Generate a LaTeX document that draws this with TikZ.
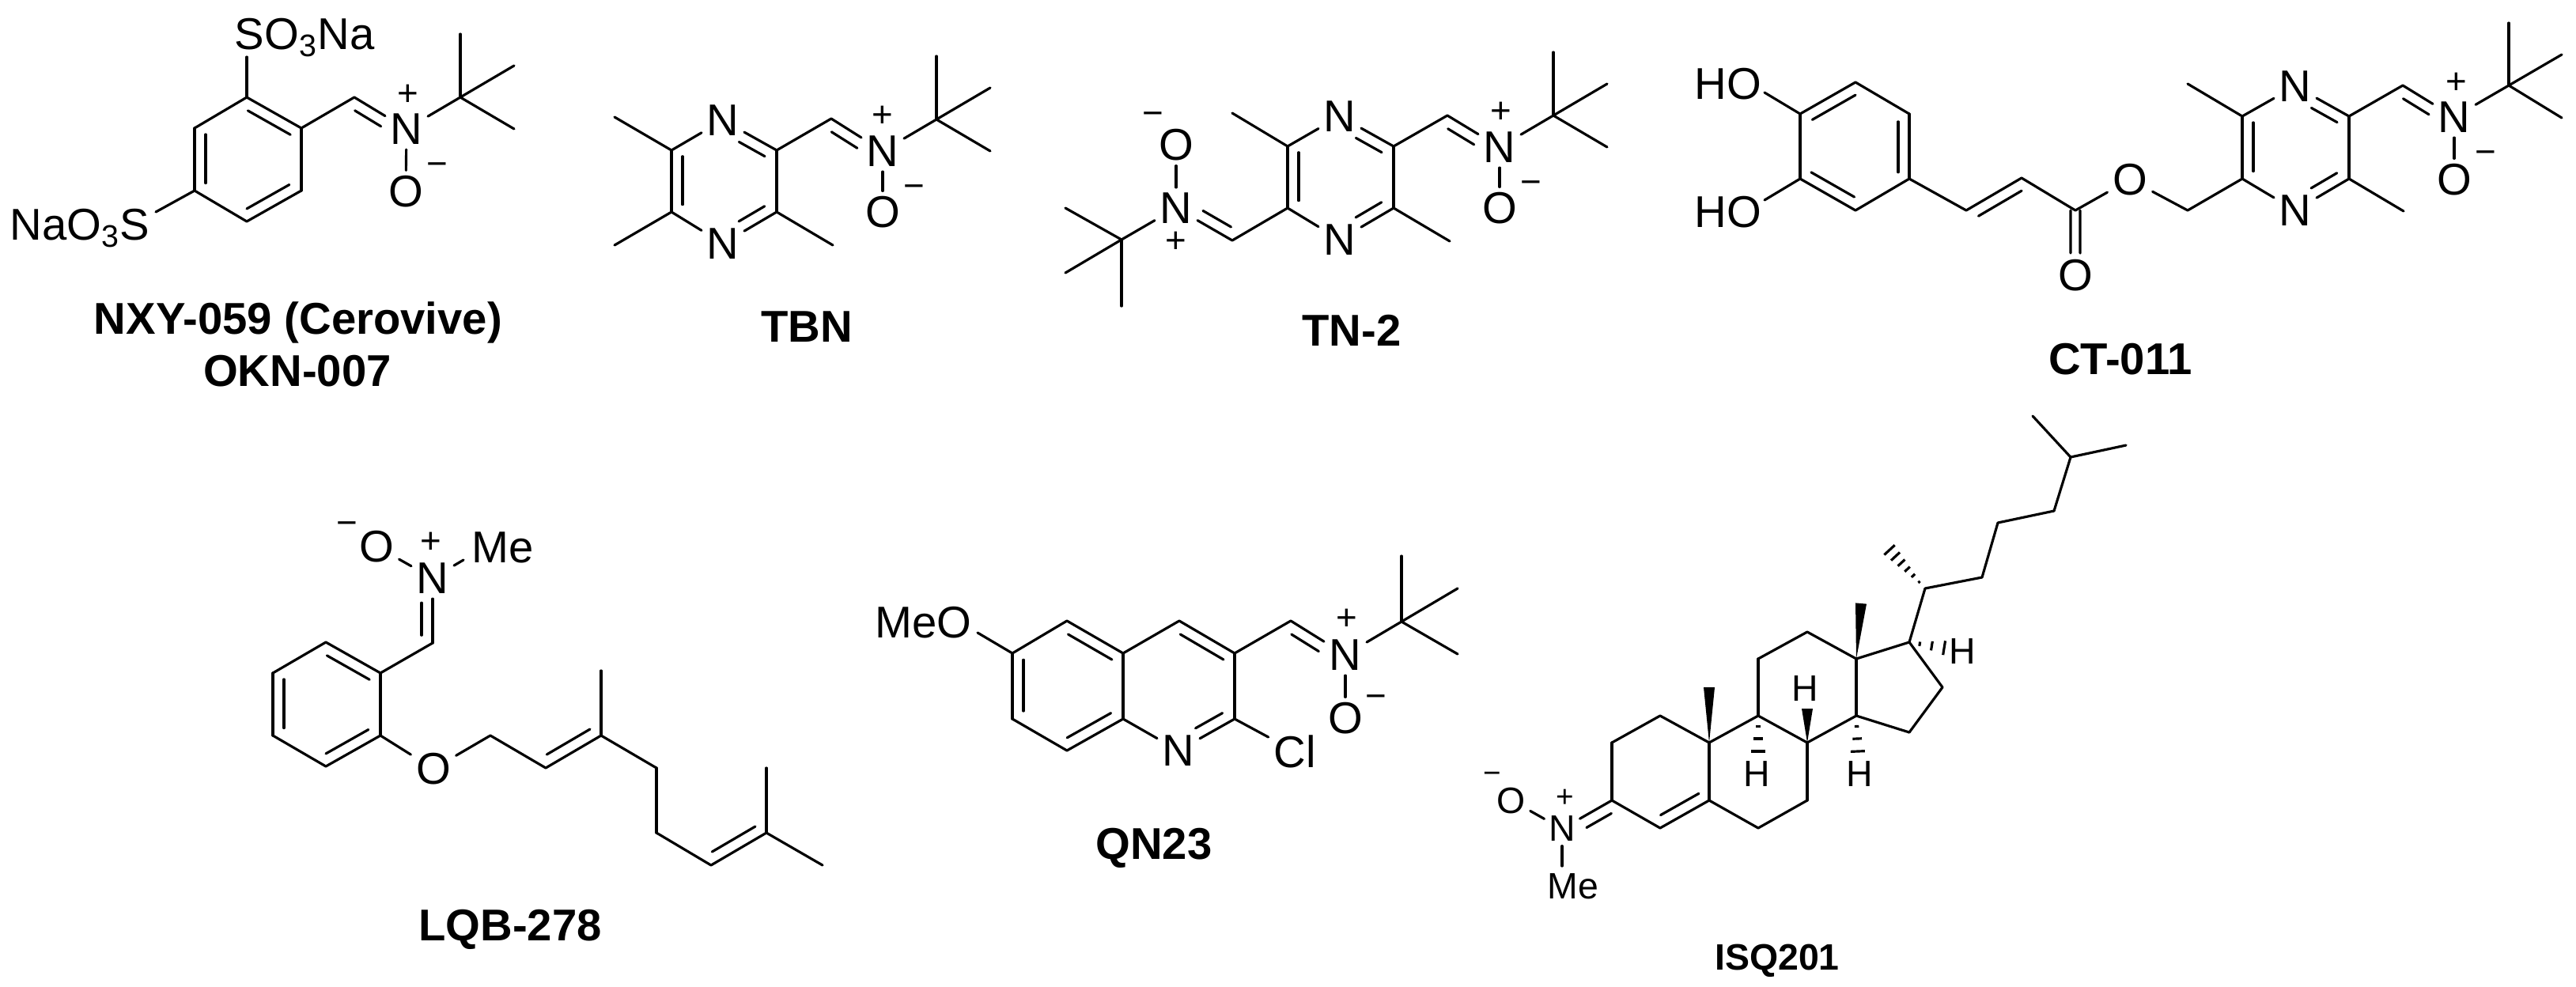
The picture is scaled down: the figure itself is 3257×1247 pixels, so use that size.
\documentclass[tikz,border=0pt]{standalone}
\usepackage{fontspec}
\setmainfont{Liberation Sans}
\usetikzlibrary{calc}

\tikzset{
  bond/.style={line width=0.9pt,line cap=round,line join=round},
  atom/.style={inner sep=0.06cm,font=\fontsize{16}{18}\selectfont},
  atomtxt/.style={inner sep=0pt,font=\fontsize{16}{18}\selectfont},
  chg/.style={inner sep=0pt,font=\fontsize{13}{14}\selectfont},
  atoms/.style={inner sep=0.05cm,font=\fontsize{13.2}{15}\selectfont},
  chgs/.style={inner sep=0pt,font=\fontsize{11}{12}\selectfont},
  lbl/.style={inner sep=0pt,anchor=base,font=\fontsize{16}{18}\selectfont\bfseries},
}
% double bond: line a--b, second line on the given side
\newcommand{\dbond}[4][.38]{%
  \draw[bond] (#2) -- (#3);
  \draw[bond] ($(#2)!.12!(#3)!#4!90:(#3)$) -- ($(#3)!#1!(#2)!#4!-90:(#2)$);}
\newcommand{\cbond}[3][.1]{\dbond[#1]{#2}{#3}{-.14cm}}
% double bond, two lines round the axis
\newcommand{\sbond}[3][.34]{%
  \draw[bond] ($(#2)!.06cm!90:(#3)$) -- ($(#3)!#1!(#2)!.06cm!-90:(#2)$);
  \draw[bond] ($(#2)!.06cm!-90:(#3)$) -- ($(#3)!#1!(#2)!.06cm!90:(#2)$);}
\newcommand{\wbond}[3]{\fill (#1) -- ($(#2)!#3!90:(#1)$) -- ($(#2)!#3!-90:(#1)$) -- cycle;}
\newcommand{\hbond}[4][.27,.58,.9]{%
  \foreach \t in {#1} \draw[bond,line cap=butt] ($(#2)!\t!(#3)!\t*#4!90:(#3)$) -- ($(#2)!\t!(#3)!\t*#4!-90:(#3)$);}

\begin{document}
\begin{tikzpicture}[x=0.01cm,y=-0.01cm]
\useasboundingbox (0,0) rectangle (3257,1247);

% NXY-059
\coordinate (nc1) at (312,123); \coordinate (nc2) at (381,162); \coordinate (nc3) at (381,241);
\coordinate (nc4) at (312,280); \coordinate (nc5) at (246,241); \coordinate (nc6) at (246,162);
\coordinate (nch) at (448,123); \coordinate (nbu) at (582,123);
\coordinate (nme1) at (582,43); \coordinate (nme2) at (650,83); \coordinate (nme3) at (650,163);
\coordinate (nsa) at (312,72); \coordinate (nsb) at (197,268);
\node[atom] (nn) at (514,163) {N}; % nitrone
\node[atom] (no) at (513,242) {O};
\node[chg] (npl) at (516,120) {+};
\node[chg] (nmi) at (553,214) {−};
\node[atomtxt,anchor=base west] (nso) at (296,62) {SO\textsubscript{3}Na};
\node[atomtxt,anchor=base east] (nsn) at (190,303) {NaO\textsubscript{3}S};
\foreach \a/\b in {nc2/nc3,nc4/nc5,nc6/nc1,nc1/nsa,nc5/nsb,nc2/nch,nn/no,nn/nbu,nbu/nme1,nbu/nme2,nbu/nme3}
  \draw[bond] (\a) -- (\b);
\cbond{nc1}{nc2} \cbond{nc3}{nc4} \cbond{nc5}{nc6}
\dbond{nch}{nn}{-.14cm}
\node[lbl] (nla) at (377,422) {NXY-059 (Cerovive)};
\node[lbl] (nlb) at (376,488) {OKN-007};

% TBN
\coordinate (tc6) at (849,190); \coordinate (tc5) at (849,268); \coordinate (tc2) at (982,190);
\coordinate (tc3) at (982,268); \coordinate (tch) at (1051,150); \coordinate (tbu) at (1184,151);
\coordinate (tm1) at (777,148); \coordinate (tm2) at (777,310); \coordinate (tm3) at (1053,310);
\coordinate (tm4) at (1184,71); \coordinate (tm5) at (1252,111); \coordinate (tm6) at (1252,191);
\node[atom] (tn1) at (914,152) {N};
\node[atom] (tn4) at (914,308) {N};
\node[atom] (tn) at (1116,191) {N};
\node[atom] (to) at (1116,268) {O};
\node[chg] (tpl) at (1116,147) {+};
\node[chg] (tmi) at (1156,242) {−};
\foreach \a/\b in {tc6/tn1,tc5/tn4,tc2/tc3,tc6/tm1,tc5/tm2,tc3/tm3,tc2/tch,tn/to,tn/tbu,tbu/tm4,tbu/tm5,tbu/tm6}
  \draw[bond] (\a) -- (\b);
\cbond{tc5}{tc6}
\dbond[.4]{tc2}{tn1}{.14cm} \dbond[.4]{tc3}{tn4}{-.14cm}
\dbond{tch}{tn}{-.14cm}
\node[lbl] (tla) at (1020,432) {TBN};

% TN-2
\coordinate (dc1) at (1628,185); \coordinate (dc2) at (1628,263); \coordinate (dc3) at (1762,185);
\coordinate (dc4) at (1762,263); \coordinate (dch) at (1830,146); \coordinate (dcl) at (1558,304);
\coordinate (dm1) at (1558,143); \coordinate (dm2) at (1833,305);
\coordinate (dbu) at (1964,146); \coordinate (dm3) at (1964,66); \coordinate (dm4) at (2032,106); \coordinate (dm5) at (2032,186);
\coordinate (dbv) at (1418,303); \coordinate (dm6) at (1347,263); \coordinate (dm7) at (1347,345); \coordinate (dm8) at (1418,387);
\node[atom] (dn1) at (1694,147) {N};
\node[atom] (dn2) at (1694,303) {N};
\node[atom] (dn) at (1896,186) {N};
\node[atom] (do) at (1896,263) {O};
\node[chg] (dpl) at (1898,142) {+};
\node[chg] (dmi) at (1936,237) {−};
\node[atom] (dnl) at (1487,263) {N};
\node[atom] (dol) at (1487,183) {O};
\node[chg] (dpm) at (1487,306) {+};
\node[chg] (dmm) at (1458,150) {−};
\foreach \a/\b in {dc1/dn1,dc2/dn2,dc3/dc4,dc1/dm1,dc4/dm2,dc3/dch,dn/do,dn/dbu,dbu/dm3,dbu/dm4,dbu/dm5,dc2/dcl,dnl/dol,dnl/dbv,dbv/dm6,dbv/dm7,dbv/dm8}
  \draw[bond] (\a) -- (\b);
\cbond{dc2}{dc1}
\dbond[.4]{dc3}{dn1}{.14cm} \dbond[.4]{dc4}{dn2}{-.14cm}
\dbond{dch}{dn}{-.14cm} \dbond{dcl}{dnl}{-.14cm}
\node[lbl] (dla) at (1709,437) {TN-2};

% CT-011
\coordinate (ca1) at (2346,104); \coordinate (ca2) at (2414,144); \coordinate (ca3) at (2414,226);
\coordinate (ca4) at (2346,266); \coordinate (ca5) at (2276,226); \coordinate (ca6) at (2276,144);
\coordinate (cha) at (2231,117); \coordinate (chb) at (2231,253);
\coordinate (cv1) at (2486,266); \coordinate (cv2) at (2556,225); \coordinate (cco) at (2624,266);
\coordinate (cch2) at (2766,266);
\coordinate (cc1) at (2835,147); \coordinate (cc2) at (2835,226); \coordinate (cc3) at (2970,147); \coordinate (cc4) at (2970,226);
\coordinate (cm1) at (2766,106); \coordinate (cm2) at (3039,267); \coordinate (cch) at (3038,108);
\coordinate (cbu) at (3172,108); \coordinate (cm3) at (3172,29); \coordinate (cm4) at (3239,69); \coordinate (cm5) at (3239,149);
\node[atomtxt,anchor=base] (chu) at (2185,125) {HO};
\node[atomtxt,anchor=base] (chl) at (2185,287) {HO};
\node[atom] (coe) at (2693,227) {O};
\node[atom] (cod) at (2624,348) {O};
\node[atom] (cn1) at (2902,109) {N};
\node[atom] (cn2) at (2902,266) {N};
\node[atom] (cn) at (3103,148) {N};
\node[atom] (co) at (3103,227) {O};
\node[chg] (cpl) at (3106,105) {+};
\node[chg] (cmi) at (3143,199) {−};
\foreach \a/\b in {ca1/ca2,ca3/ca4,ca5/ca6,ca6/cha,ca5/chb,ca3/cv1,cv2/cco,cco/coe,coe/cch2,cch2/cc2,cc1/cn1,cc2/cn2,cc3/cc4,cc1/cm1,cc4/cm2,cc3/cch,cn/co,cn/cbu,cbu/cm3,cbu/cm4,cbu/cm5}
  \draw[bond] (\a) -- (\b);
\cbond{ca6}{ca1} \cbond{ca2}{ca3} \cbond{ca4}{ca5}
\dbond[.1]{cv1}{cv2}{-.14cm}
\sbond{cco}{cod}
\cbond{cc2}{cc1}
\dbond[.4]{cc3}{cn1}{.14cm} \dbond[.4]{cc4}{cn2}{-.14cm}
\dbond{cch}{cn}{-.14cm}
\node[lbl] (cla) at (2681,473) {CT-011};

% LQB-278
\coordinate (la1) at (412,812); \coordinate (la2) at (481,851); \coordinate (la3) at (481,930);
\coordinate (la4) at (412,969); \coordinate (la5) at (345,930); \coordinate (la6) at (345,851);
\coordinate (lch) at (547,813); \coordinate (lmb) at (586,708);
\coordinate (lp1) at (620,930); \coordinate (lp2) at (690,971); \coordinate (lp3) at (760,930);
\coordinate (lp4) at (760,848); \coordinate (lp5) at (830,971); \coordinate (lp6) at (830,1053);
\coordinate (lp7) at (899,1094); \coordinate (lp8) at (969,1053); \coordinate (lp9) at (969,971); \coordinate (lp10) at (1040,1094);
\node[atom] (ln) at (547,731) {N};
\node[atom] (lo) at (476,691) {O};
\node[atom] (loe) at (548,972) {O};
\node[atomtxt,anchor=base west] (lme) at (596,711) {Me};
\node[chg] (lpl) at (545,686) {+};
\node[chg] (lmi) at (439,668) {−};
\foreach \a/\b in {la2/la3,la4/la5,la6/la1,la2/lch,ln/lo,ln/lmb,la3/loe,loe/lp1,lp1/lp2,lp3/lp4,lp3/lp5,lp5/lp6,lp6/lp7,lp8/lp9,lp8/lp10}
  \draw[bond] (\a) -- (\b);
\cbond{la1}{la2} \cbond{la3}{la4} \cbond{la5}{la6}
\dbond{lch}{ln}{.14cm}
\dbond[.1]{lp2}{lp3}{.14cm} \dbond[.1]{lp7}{lp8}{.14cm}
\node[lbl] (lla) at (645,1189) {LQB-278};

% QN23
\coordinate (qa1) at (1280,826); \coordinate (qa2) at (1349,785); \coordinate (qa3) at (1420,826);
\coordinate (qa4) at (1420,909); \coordinate (qa5) at (1349,949); \coordinate (qa6) at (1280,909);
\coordinate (qb1) at (1491,785); \coordinate (qb2) at (1561,826); \coordinate (qb3) at (1561,909);
\coordinate (qmb) at (1236,800); \coordinate (qch) at (1632,785);
\coordinate (qbu) at (1772,786); \coordinate (qm1) at (1772,703); \coordinate (qm2) at (1843,744); \coordinate (qm3) at (1843,827);
\node[atom] (qn1) at (1490,949) {N};
\node[atom] (qn) at (1701,828) {N};
\node[atom] (qo) at (1701,908) {O};
\node[atomtxt,anchor=base east] (qme) at (1229,806) {MeO};
\node[atom] (qcl) at (1637,950) {Cl};
\node[chg] (qpl) at (1703,783) {+};
\node[chg] (qmi) at (1740,887) {−};
\foreach \a/\b in {qa3/qa4,qa5/qa6,qa1/qa2,qa1/qmb,qa3/qb1,qa4/qn1,qb2/qb3,qb3/qcl,qb2/qch,qn/qo,qn/qbu,qbu/qm1,qbu/qm2,qbu/qm3}
  \draw[bond] (\a) -- (\b);
\cbond{qa2}{qa3} \cbond{qa4}{qa5} \cbond{qa6}{qa1}
\cbond{qb1}{qb2} \dbond[.4]{qb3}{qn1}{-.14cm}
\dbond{qch}{qn}{-.14cm}
\node[lbl] (qla) at (1459,1086) {QN23};

% ISQ201
\coordinate (sa1) at (2038,939); \coordinate (sa2) at (2099,905); \coordinate (sa3) at (2161,939);
\coordinate (sa4) at (2161,1012); \coordinate (sa5) at (2099,1047); \coordinate (sa6) at (2038,1012);
\coordinate (sb1) at (2223,905); \coordinate (sb2) at (2285,939); \coordinate (sb3) at (2285,1012); \coordinate (sb4) at (2223,1047);
\coordinate (sc1) at (2223,833); \coordinate (sc2) at (2285,799); \coordinate (sc3) at (2347,833); \coordinate (sc4) at (2347,905);
\coordinate (sd1) at (2414,812); \coordinate (sd2) at (2456,869); \coordinate (sd3) at (2414,926);
\coordinate (ss1) at (2434,744); \coordinate (ss2) at (2506,730); \coordinate (ss3) at (2526,661); \coordinate (ss4) at (2597,646);
\coordinate (ss5) at (2618,578); \coordinate (ss6) at (2570,526); \coordinate (ss7) at (2688,563);
\coordinate (sw1) at (2161,869); \coordinate (sw2) at (2353,763); \coordinate (sw3) at (2285,896);
\coordinate (sh1) at (2223,955); \coordinate (sh2) at (2349,955); \coordinate (sh3) at (2463,820); \coordinate (shm) at (2384,690);
\coordinate (sha) at (2223,905); \coordinate (shb) at (2347,905);
\coordinate (smb) at (1975,1095);
\node[atoms] (sn) at (1975,1048) {N};
\node[atoms] (so) at (1911,1012) {O};
\node[atomtxt,font=\fontsize{13.2}{15}\selectfont,anchor=base] (sme) at (1989,1136) {Me};
\node[chgs] (spl) at (1979,1009) {+};
\node[chgs] (smi) at (1887,983) {−};
\node[atoms,inner sep=0pt] (sh8) at (2282,871) {H};
\node[atoms,inner sep=0pt] (sh9) at (2221,979) {H};
\node[atoms,inner sep=0pt] (sh14) at (2351,979) {H};
\node[atoms,inner sep=0pt] (sh17) at (2481,824) {H};
\foreach \a/\b in {sa1/sa2,sa2/sa3,sa3/sa4,sa5/sa6,sa6/sa1,sa3/sb1,sb1/sb2,sb2/sb3,sb3/sb4,sb4/sa4,sb1/sc1,sc1/sc2,sc2/sc3,sc3/sc4,sc4/sb2,sc3/sd1,sd1/sd2,sd2/sd3,sd3/sc4,sd1/ss1,ss1/ss2,ss2/ss3,ss3/ss4,ss4/ss5,ss5/ss6,ss5/ss7,sn/so,sn/smb}
  \draw[bond] (\a) -- (\b);
\dbond{sa6}{sn}{.14cm}
\dbond[.1]{sa5}{sa4}{.14cm}
\wbond{sa3}{sw1}{.07cm} \wbond{sc3}{sw2}{.07cm} \wbond{sb2}{sw3}{.07cm}
\hbond{sha}{sh1}{.1cm} \hbond{shb}{sh2}{.1cm} \hbond{sd1}{sh3}{.1cm}
\hbond[.15,.3,.45,.6,.75,.9]{ss1}{shm}{.1cm}
\node[lbl,font=\fontsize{13.2}{15}\selectfont\bfseries] (sla) at (2247,1226) {ISQ201};
\end{tikzpicture}
\end{document}
